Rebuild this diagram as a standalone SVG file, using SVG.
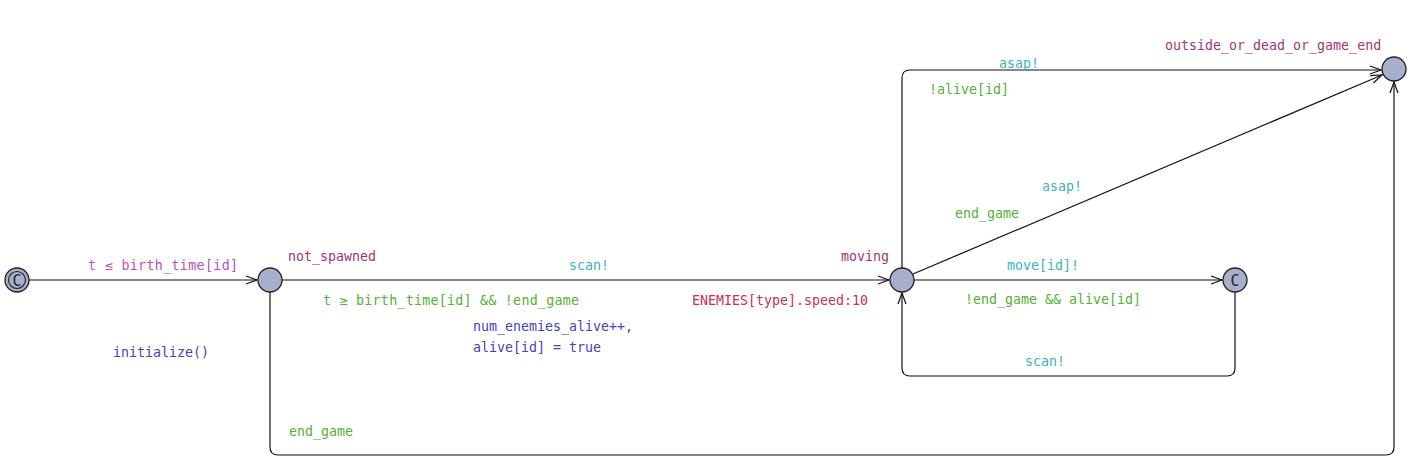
<svg xmlns="http://www.w3.org/2000/svg" width="1414" height="467" viewBox="0 0 1414 467">
<style>
text{font-family:"DejaVu Sans Mono","Liberation Mono",monospace;font-size:13.3px}
.loc{fill:#a8afcc;stroke:#222;stroke-width:1.3}
.e{fill:none;stroke:#111;stroke-width:1.2}
.name{fill:#9a3a70}
.guard{fill:#55b035}
.sync{fill:#3fb0c0}
.upd{fill:#4444b8}
.inv{fill:#c050b8}
.rate{fill:#c83055}
.cl{font-size:15px;fill:#222}
</style>
<defs>
<marker id="a" markerWidth="14" markerHeight="12" refX="12" refY="6" orient="auto" markerUnits="userSpaceOnUse">
<path d="M1,2 L12,6 L1,10" fill="none" stroke="#111" stroke-width="1.2"/>
</marker>
</defs>
<rect width="1414" height="467" fill="#fff"/>
<g id="connectors">
<line class="e" x1="29" y1="280" x2="257" y2="280" marker-end="url(#a)"/>
<line class="e" x1="282" y1="280" x2="889" y2="280" marker-end="url(#a)"/>
<line class="e" x1="914" y1="280" x2="1222" y2="280" marker-end="url(#a)"/>
<path class="e" d="M1235,292 V368 Q1235,376 1227,376 H910 Q902,376 902,368 V293" marker-end="url(#a)"/>
<path class="e" d="M902,268 V78 Q902,70 910,70 H1381" marker-end="url(#a)"/>
<line class="e" x1="913" y1="274" x2="1382" y2="75" marker-end="url(#a)"/>
<path class="e" d="M270,292 V447 Q270,455 278,455 H1386 Q1394,455 1394,447 V82" marker-end="url(#a)"/>
</g>
<g id="init">
<circle class="loc" cx="17" cy="280" r="12"/>
<circle cx="17" cy="280" r="8.5" fill="none" stroke="#222" stroke-width="1.1"/>
<text class="cl" x="17" y="285.5" text-anchor="middle">C</text>
<text class="inv" x="88" y="270" textLength="150" lengthAdjust="spacing">t ≤ birth_time[id]</text>
<text class="upd" x="113" y="357">initialize()</text>
</g>
<g id="not_spawned">
<circle class="loc" cx="270" cy="280" r="12"/>
<text class="name" x="288" y="261">not_spawned</text>
</g>
<g id="moving">
<circle class="loc" cx="902" cy="280" r="12"/>
<text class="name" x="841" y="261">moving</text>
<text class="rate" x="692" y="305">ENEMIES[type].speed:10</text>
</g>
<g id="committed">
<circle class="loc" cx="1235" cy="280" r="12"/>
<text class="cl" x="1235" y="285.5" text-anchor="middle">C</text>
</g>
<g id="outside_or_dead_or_game_end">
<circle class="loc" cx="1394" cy="69" r="12"/>
<text class="name" x="1165" y="50">outside_or_dead_or_game_end</text>
</g>
<g id="labels">
<text class="sync" x="569" y="270">scan!</text>
<text class="guard" x="323" y="305" textLength="256" lengthAdjust="spacing">t ≥ birth_time[id] &amp;&amp; !end_game</text>
<text class="upd" x="473" y="331">num_enemies_alive++,</text>
<text class="upd" x="473" y="352">alive[id] = true</text>
<text class="sync" x="1007" y="270">move[id]!</text>
<text class="guard" x="965" y="304">!end_game &amp;&amp; alive[id]</text>
<text class="sync" x="1025" y="366">scan!</text>
<text class="sync" x="1042" y="191">asap!</text>
<text class="guard" x="955" y="218">end_game</text>
<text class="sync" x="999" y="68">asap!</text>
<text class="guard" x="929" y="94">!alive[id]</text>
<text class="guard" x="289" y="436">end_game</text>
</g>
</svg>
